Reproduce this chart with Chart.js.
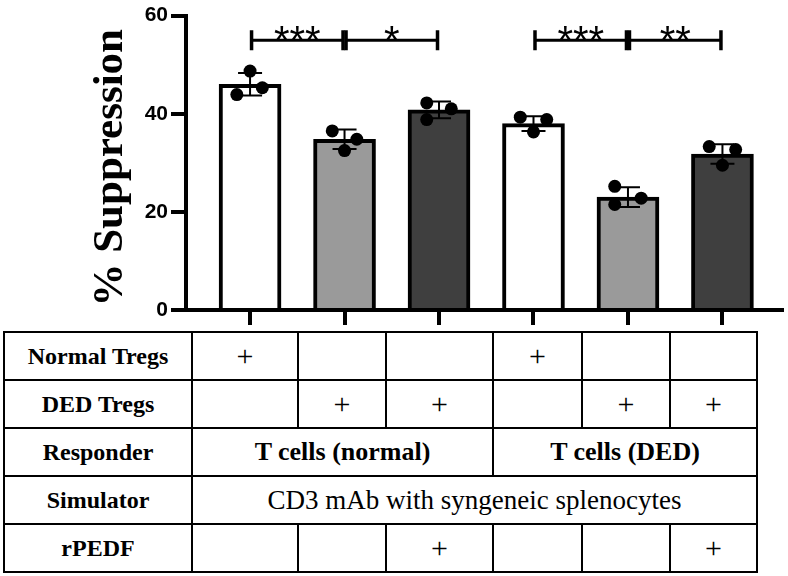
<!DOCTYPE html>
<html lang="en">
<head>
<meta charset="UTF-8">
<title>% Suppression</title>
<script src="https://cdn.jsdelivr.net/npm/chart.js"></script>
<style>
    body {
        margin: 0;
        background: #fff;
    }
    #wrap {
        position: relative;
        width: 788px;
        height: 576px;
    }
    canvas {
        position: absolute;
        left: 0;
        top: 0;
    }
    table {
        position: absolute;
        left: 3px;
        top: 331px;
        width: 753px;
        border-collapse: collapse;
        table-layout: fixed;
        font-family: "Liberation Serif", serif;
        color: #000;
    }
    td {
        border: 2px solid #000;
        text-align: center;
        padding: 0;
        height: 46px;
        font-size: 30px;
        line-height: 30px;
        white-space: nowrap;
    }
    td.head { font-weight: bold; font-size: 24px; }
    td.bold { font-weight: bold; font-size: 26px; }
    td.wide { font-size: 27px; }
</style>
</head>
<body>

<div id="wrap">
    <canvas id="chart" width="788" height="330"></canvas>
    <table id="conditions"></table>
</div>

<script>
    // bars (mean % suppression) and SD
    const barLabels = ['Normal Tregs', 'DED Tregs', 'DED Tregs + rPEDF', 'Normal Tregs', 'DED Tregs', 'DED Tregs + rPEDF'];
    const means = [46.0, 34.8, 40.8, 38.0, 23.0, 31.8];
    const sds = [2.3, 2.0, 1.7, 1.5, 2.0, 2.0];
    const barColors = ['#ffffff', '#9a9a9a', '#3f3f3f', '#ffffff', '#9a9a9a', '#3f3f3f'];

    // individual replicates and their horizontal jitter (in bar units)
    const dots = [
        [48.7, 43.9, 45.3],
        [36.5, 34.8, 32.5],
        [42.2, 41.0, 38.8],
        [39.3, 38.8, 36.3],
        [25.2, 22.8, 21.5],
        [33.3, 32.7, 29.5]
    ];
    const jitter = [
        [0, -0.14, 0.13],
        [-0.13, 0.13, 0],
        [-0.13, 0.13, -0.13],
        [-0.14, 0.14, 0],
        [-0.14, 0.14, -0.14],
        [-0.14, 0.14, 0]
    ];

    // significance brackets
    const sigPairs = [[0, 1], [1, 2], [3, 4], [4, 5]];
    const sigLabels = ['***', '*', '***', '**'];
    const sigLevel = 55;

    const yTicks = [0, 20, 40, 60];
    const yTitle = '% Suppression';

    // table below the chart
    const rowHeads = ['Normal Tregs', 'DED Tregs', 'Responder', 'Simulator', 'rPEDF'];
    const normalTregs = ['+', '', '', '+', '', ''];
    const dedTregs = ['', '+', '+', '', '+', '+'];
    const responder = ['T cells (normal)', 'T cells (DED)'];
    const simulator = ['CD3 mAb with syngeneic splenocytes'];
    const rpedf = ['', '', '+', '', '', '+'];
    const colWidths = [188, 106, 88, 107, 89, 88, 87];

    // build the table
    const table = document.getElementById('conditions');
    const cg = document.createElement('colgroup');
    colWidths.forEach(w => {
        const c = document.createElement('col');
        c.style.width = w + 'px';
        cg.appendChild(c);
    });
    table.appendChild(cg);

    function addRow(head, cells, span, cls) {
        const tr = document.createElement('tr');
        const th = document.createElement('td');
        th.className = 'head';
        th.textContent = head;
        tr.appendChild(th);
        cells.forEach(t => {
            const td = document.createElement('td');
            td.textContent = t;
            if (span > 1) td.colSpan = span;
            if (cls) td.className = cls;
            tr.appendChild(td);
        });
        table.appendChild(tr);
    }
    addRow(rowHeads[0], normalTregs, 1);
    addRow(rowHeads[1], dedTregs, 1);
    addRow(rowHeads[2], responder, 3, 'bold');
    addRow(rowHeads[3], simulator, 6, 'wide');
    addRow(rowHeads[4], rpedf, 1);

    // chart data
    const barPoints = means.map((v, i) => ({ x: i, y: v }));
    const dotPoints = [];
    dots.forEach((vals, i) => {
        vals.forEach((v, k) => dotPoints.push({ x: i + jitter[i][k], y: v }));
    });

    const errorBars = {
        id: 'errorBars',
        afterDatasetDraw(chart, args) {
            if (args.index !== 1) return;
            const { ctx, scales: { x, y } } = chart;
            ctx.save();
            ctx.strokeStyle = '#000';
            ctx.lineWidth = 2;
            means.forEach((m, i) => {
                const px = x.getPixelForValue(i);
                const top = y.getPixelForValue(m + sds[i]);
                const bot = y.getPixelForValue(m - sds[i]);
                ctx.beginPath();
                ctx.moveTo(px, top); ctx.lineTo(px, bot);
                ctx.moveTo(px - 12, top); ctx.lineTo(px + 12, top);
                ctx.moveTo(px - 12, bot); ctx.lineTo(px + 12, bot);
                ctx.stroke();
            });
            ctx.restore();
        }
    };

    const brackets = {
        id: 'brackets',
        afterDatasetsDraw(chart) {
            const { ctx, scales: { x, y } } = chart;
            const py = y.getPixelForValue(sigLevel);
            ctx.save();
            ctx.strokeStyle = '#000';
            ctx.fillStyle = '#000';
            sigPairs.forEach(([a, b], k) => {
                const x1 = x.getPixelForValue(a) + 1.5;
                const x2 = x.getPixelForValue(b) - 1.5;
                ctx.lineWidth = 3;
                ctx.beginPath();
                ctx.moveTo(x1, py); ctx.lineTo(x2, py);
                ctx.stroke();
                ctx.lineWidth = 3.5;
                ctx.beginPath();
                ctx.moveTo(x1, py - 10); ctx.lineTo(x1, py + 10);
                ctx.moveTo(x2, py - 10); ctx.lineTo(x2, py + 10);
                ctx.stroke();
                ctx.font = '40px "Liberation Sans"';
                ctx.textAlign = 'center';
                ctx.textBaseline = 'alphabetic';
                ctx.fillText(sigLabels[k], (x1 + x2) / 2, py + 14);
            });
            ctx.restore();
        }
    };

    const axisTitle = {
        id: 'axisTitle',
        afterDraw(chart) {
            const { ctx, chartArea } = chart;
            ctx.save();
            ctx.translate(122, (chartArea.top + chartArea.bottom) / 2 + 5);
            ctx.rotate(-Math.PI / 2);
            ctx.font = 'bold 43px "Liberation Serif"';
            ctx.fillStyle = '#000';
            ctx.textAlign = 'center';
            ctx.textBaseline = 'alphabetic';
            ctx.fillText(yTitle, 0, 0);
            ctx.restore();
        }
    };

    const ctx = document.getElementById('chart').getContext('2d');
    new Chart(ctx, {
        type: 'bar',
        data: {
            datasets: [
                {
                    type: 'scatter',
                    label: 'replicates',
                    data: dotPoints,
                    pointRadius: 6.5,
                    pointHoverRadius: 6.5,
                    backgroundColor: '#000',
                    borderWidth: 0,
                    order: 1
                },
                {
                    type: 'bar',
                    label: 'mean',
                    data: barPoints,
                    backgroundColor: barColors,
                    borderColor: '#000',
                    borderWidth: 4,
                    barThickness: 62,
                    order: 2
                }
            ]
        },
        options: {
            responsive: false,
            animation: false,
            layout: { padding: { top: 10, right: 0, left: 0, bottom: 0 } },
            plugins: {
                legend: { display: false },
                tooltip: { enabled: false }
            },
            scales: {
                x: {
                    type: 'linear',
                    offset: false,
                    min: -0.678,
                    max: 5.625,
                    afterFit: s => { s.height = 20; },
                    ticks: { display: false, stepSize: 1, includeBounds: false },
                    grid: { offset: false, drawOnChartArea: false, drawTicks: true, tickLength: 15, lineWidth: 4, color: '#000' },
                    border: { display: true, width: 4, color: '#000' }
                },
                y: {
                    min: 0,
                    max: 60,
                    afterFit: s => { s.width = 186; },
                    afterBuildTicks: s => { s.ticks = yTicks.map(v => ({ value: v })); },
                    ticks: {
                        padding: 3,
                        color: '#000',
                        font: { family: 'Liberation Sans', weight: 'bold', size: 21 }
                    },
                    grid: { drawOnChartArea: false, drawTicks: true, tickLength: 15, lineWidth: 4, color: '#000' },
                    border: { display: true, width: 4, color: '#000' }
                }
            }
        },
        plugins: [errorBars, brackets, axisTitle]
    });
</script>

</body>
</html>
